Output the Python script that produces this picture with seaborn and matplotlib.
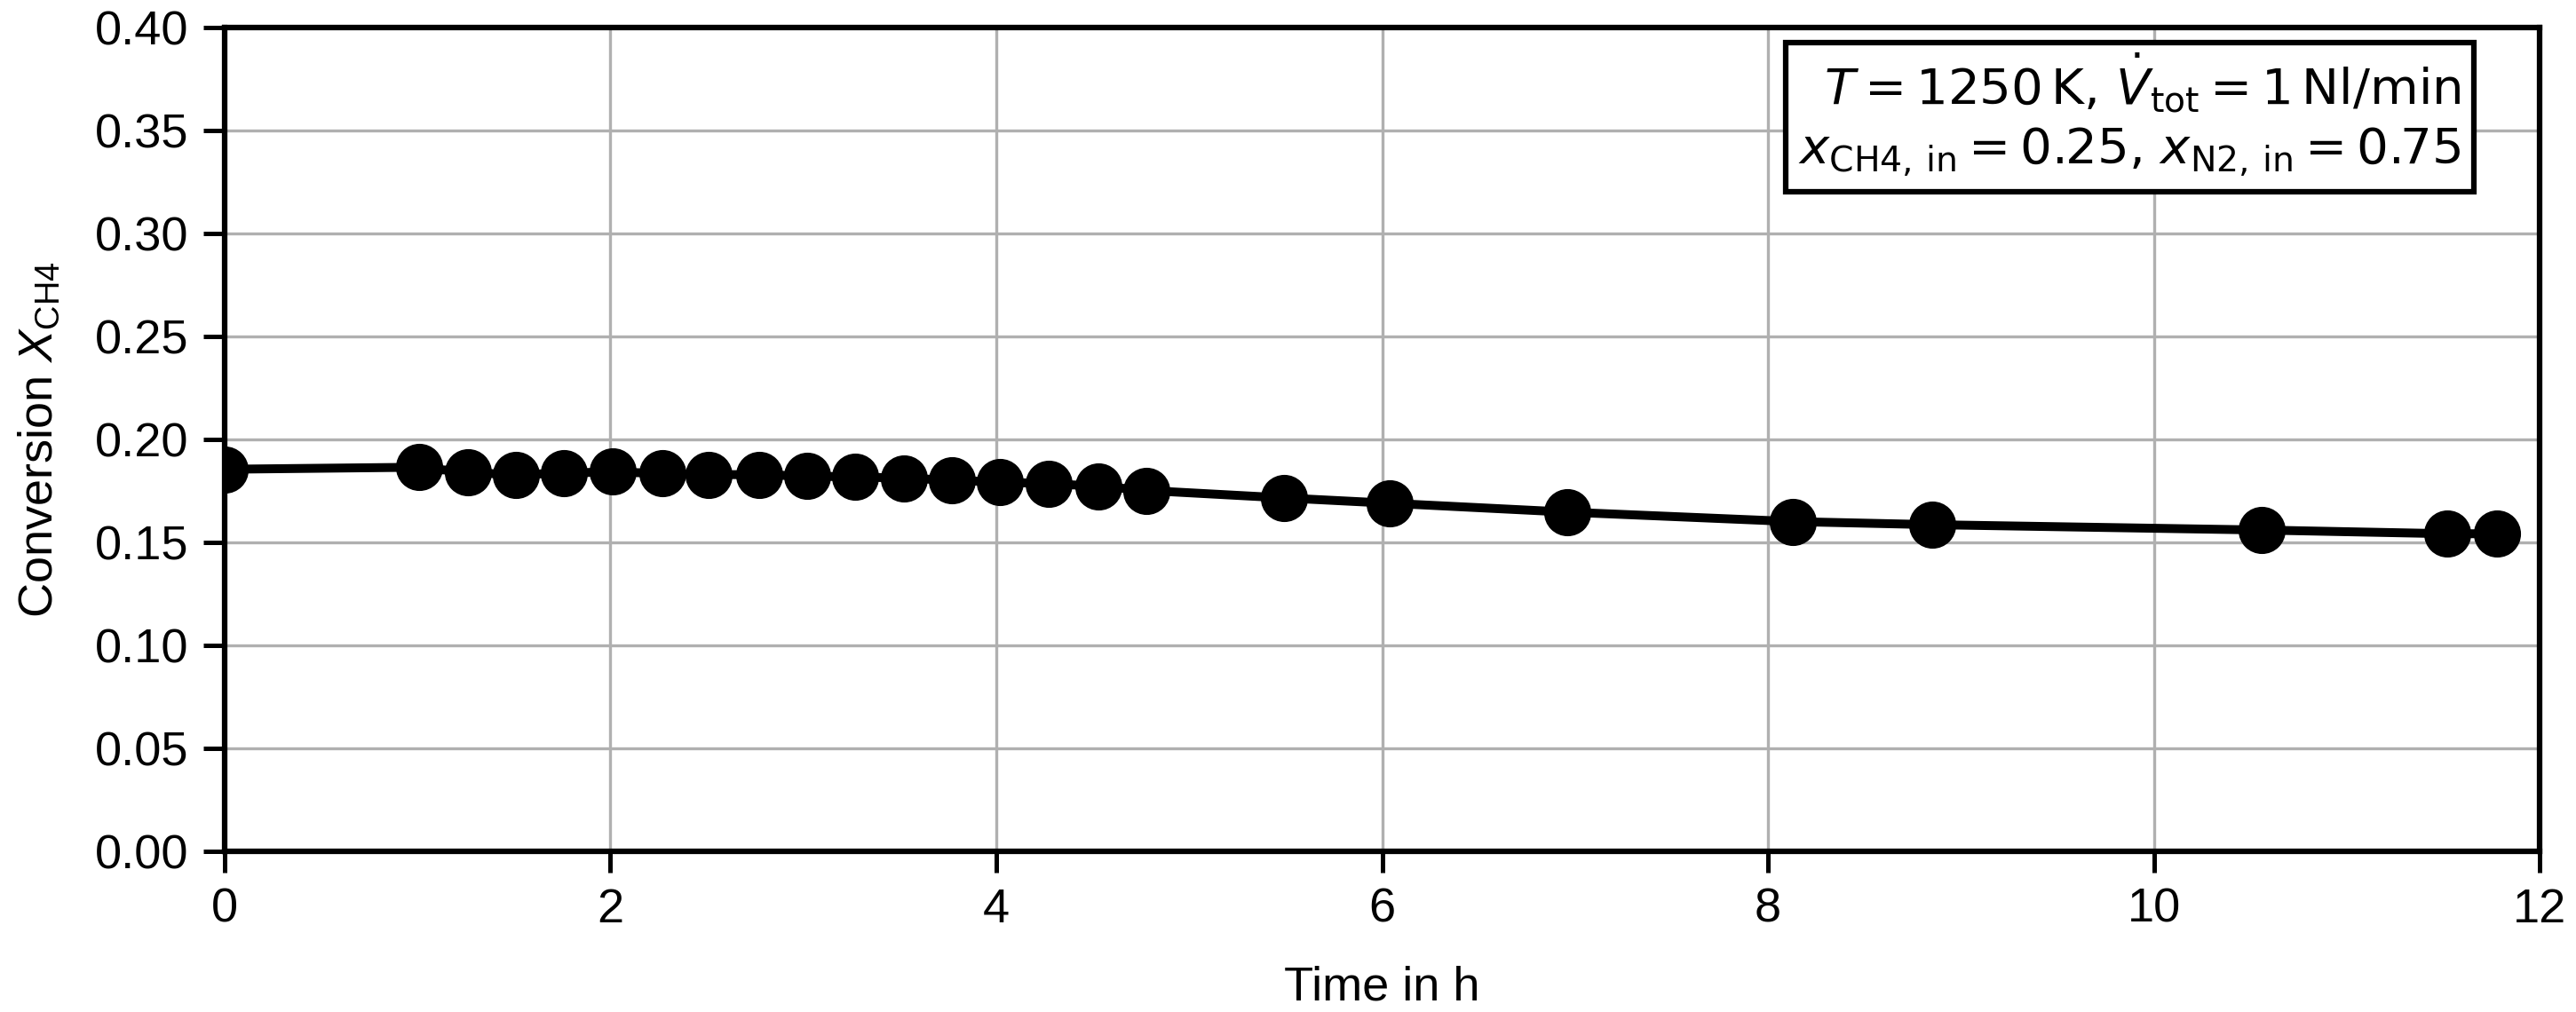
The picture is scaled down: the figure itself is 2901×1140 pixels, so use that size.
import matplotlib
matplotlib.use("Agg")
import matplotlib.pyplot as plt
import seaborn as sns
import numpy as np
import pandas as pd

# Data
time_h = [0.0, 1.01, 1.26, 1.51, 1.76, 2.01, 2.27, 2.51, 2.77, 3.02, 3.27, 3.52,
          3.77, 4.02, 4.27, 4.53, 4.78, 5.49, 6.04, 6.96, 8.13, 8.85, 10.56,
          11.52, 11.78]
conversion = [0.1855, 0.1865, 0.1839, 0.1829, 0.1836, 0.1843, 0.1834, 0.1829,
              0.1829, 0.1822, 0.1818, 0.1812, 0.1802, 0.1793, 0.1785, 0.1773,
              0.1752, 0.1716, 0.1690, 0.1647, 0.1601, 0.1586, 0.1560, 0.1542,
              0.1542]
x_ticks = [0, 2, 4, 6, 8, 10, 12]
y_ticks = [0.00, 0.05, 0.10, 0.15, 0.20, 0.25, 0.30, 0.35, 0.40]

sns.set_style("ticks")
plt.rcParams['font.family'] = ['Liberation Sans', 'DejaVu Sans']
plt.rcParams['mathtext.fontset'] = 'custom'
plt.rcParams['mathtext.rm'] = 'Liberation Sans'
plt.rcParams['mathtext.it'] = 'Liberation Sans:italic'
plt.rcParams['mathtext.bf'] = 'Liberation Sans:bold'
plt.rcParams['text.color'] = 'black'
plt.rcParams['axes.labelcolor'] = 'black'
plt.rcParams['xtick.color'] = 'black'
plt.rcParams['ytick.color'] = 'black'

df = pd.DataFrame({"t": time_h, "X": conversion})

fig = plt.figure(figsize=(2901 / 300, 1140 / 300), dpi=300)
ax = fig.add_axes([0.0872, 0.1588, 0.9859 - 0.0872, 0.9728 - 0.1588])

ax.grid(True, color='#b0b0b0', linewidth=0.8, zorder=0)
ax.set_axisbelow(True)

sns.lineplot(data=df, x="t", y="X", ax=ax, color='black', linewidth=2.4,
             marker='o', markersize=12, markeredgecolor='black',
             markerfacecolor='black', zorder=3)

ax.set_xlim(0, 12)
ax.set_ylim(0, 0.40)
ax.set_xticks(x_ticks)
ax.set_yticks(y_ticks)
ax.set_yticklabels([f"{v:.2f}" for v in y_ticks])
ax.tick_params(axis='both', labelsize=13, length=5.8, width=1.2, direction='out',
               pad=4, colors='black')
for s in ax.spines.values():
    s.set_linewidth(1.5)
    s.set_color('black')

ax.set_xlabel("Time in h", fontsize=13, labelpad=9, color='black')
ax.set_ylabel(r"Conversion $X_{\mathrm{CH4}}$", fontsize=13, labelpad=9, color='black')

txt = ax.text(0.966, 0.971,
              r"$T = 1250\,\mathrm{K}$, $\dot{V}_{\mathrm{tot}} = 1\,\mathrm{Nl/min}$" + "\n"
              r"$x_{\mathrm{CH4,\,in}} = 0.25$, $x_{\mathrm{N2,\,in}} = 0.75$",
              transform=ax.transAxes, ha='right', va='top', ma='right',
              fontsize=13.5, math_fontfamily='dejavusans', family='DejaVu Sans',
              linespacing=1.3, color='black',
              bbox=dict(boxstyle='square,pad=0.25', fc='white', ec='black', lw=1.5),
              zorder=5)

fig.savefig("out.png", dpi=300)
